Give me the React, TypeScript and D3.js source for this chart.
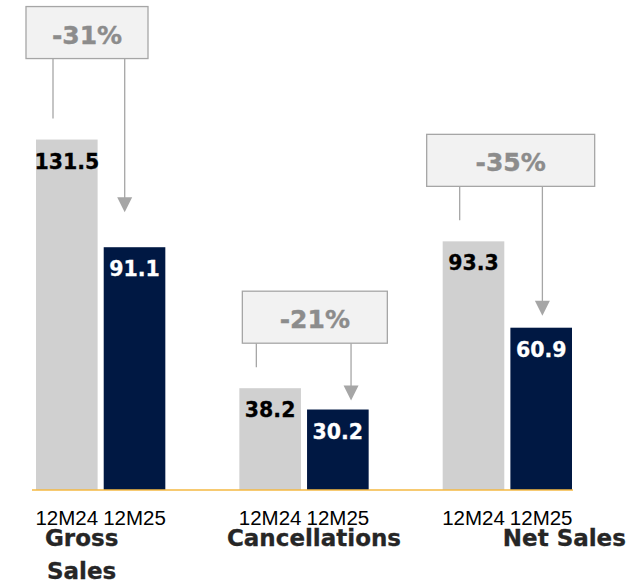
import * as d3 from "d3";

const WIDTH = 638;
const HEIGHT = 582;

// data
const categories = ["Gross Sales", "Cancellations", "Net Sales"];
const periods = ["12M24", "12M25"];
const values12M24 = [131.5, 38.2, 93.3];
const values12M25 = [91.1, 30.2, 60.9];

// layout tweaks per group (title shift, wrapping, callout placement)
const TITLE_SHIFT = [-19, 10, 57];
const TITLE_LINES = [["Gross", "Sales"], ["Cancellations"], ["Net Sales"]];
const CALLOUT = [
  { dx: -10, w: 122, lift: 81, ax: 21, tipGap: 35 },
  { dx: 3, w: 145, lift: 45, ax: 44, tipGap: 9 },
  { dx: -16, w: 168, lift: 55, ax: 32, tipGap: 12 },
];

const COLORS = ["#d0d0d0", "#001843"];
const LABEL_COLORS = ["#000000", "#ffffff"];
const BASE_Y = 490;

const pctFormat = d3.format(".0%");

export default function App() {
  const x = d3
    .scaleBand<string>()
    .domain(categories)
    .range([36, 572])
    .paddingInner(0.364)
    .paddingOuter(0);

  const xInner = d3
    .scaleBand<string>()
    .domain(periods)
    .range([0, x.bandwidth()])
    .paddingInner(0.09);

  const y = d3.scaleLinear().domain([0, 150]).range([BASE_Y, BASE_Y - 150 * 2.665]);

  const series = [values12M24, values12M25];
  const [x0, x1] = x.range();

  return (
    <svg
      width={WIDTH}
      height={HEIGHT}
      style={{ position: "absolute", left: 0, top: 0, background: "#fff" }}
    >
      {categories.map((cat, i) => {
        const gx = x(cat) as number;
        const bars = periods.map((p, k) => ({
          p,
          k,
          x: gx + (xInner(p) as number),
          top: y(series[k][i]),
          v: series[k][i],
        }));
        const c = CALLOUT[i];
        const boxBottom = bars[0].top - c.lift;
        const boxTop = boxBottom - 52;
        const boxLeft = bars[0].x + c.dx;
        const lineX = bars[0].x + 17;
        const arrowX = bars[1].x + c.ax;
        const tipY = bars[1].top - c.tipGap;
        const change = (series[1][i] - series[0][i]) / series[0][i];
        const center = gx + x.bandwidth() / 2 + TITLE_SHIFT[i];
        return (
          <g key={cat}>
            {bars.map((b) => (
              <g key={b.p}>
                <rect
                  x={b.x}
                  y={b.top}
                  width={xInner.bandwidth()}
                  height={BASE_Y - b.top}
                  fill={COLORS[b.k]}
                />
                <text
                  x={b.x + xInner.bandwidth() / 2}
                  y={b.top + 29}
                  textAnchor="middle"
                  fontFamily="DejaVu Sans, Verdana, sans-serif"
                  fontWeight="bold"
                  fontSize={20.5}
                  fill={LABEL_COLORS[b.k]}
                  stroke={LABEL_COLORS[b.k]}
                  strokeWidth={0.3}
                >
                  {b.v.toFixed(1)}
                </text>
                <text
                  x={b.x + xInner.bandwidth() / 2}
                  y={525}
                  textAnchor="middle"
                  fontFamily="Liberation Sans, Arial, sans-serif"
                  fontSize={20.5}
                  fill="#000"
                >
                  {b.p}
                </text>
              </g>
            ))}
            {/* callout */}
            <line x1={lineX} x2={lineX} y1={boxBottom} y2={bars[0].top - 21} stroke="#a6a6a6" strokeWidth={1.3} />
            <line x1={arrowX} x2={arrowX} y1={boxBottom} y2={tipY - 14} stroke="#a6a6a6" strokeWidth={1.3} />
            <path
              d={`M${arrowX - 7.5},${tipY - 15} L${arrowX + 7.5},${tipY - 15} L${arrowX},${tipY} Z`}
              fill="#a6a6a6"
            />
            <rect
              x={boxLeft}
              y={boxTop}
              width={c.w}
              height={52}
              fill="#f2f2f2"
              stroke="#a6a6a6"
              strokeWidth={1.3}
            />
            <text
              x={boxLeft + c.w / 2}
              y={boxTop + 37}
              textAnchor="middle"
              fontFamily="DejaVu Sans, Verdana, sans-serif"
              fontWeight="bold"
              fontSize={25}
              fill="#8c8c8c"
              stroke="#8c8c8c"
              strokeWidth={0.4}
            >
              {pctFormat(change).replace("−", "-")}
            </text>
            {TITLE_LINES[i].map((line, j) => (
              <text
                key={line}
                x={center}
                y={546 + j * 33}
                textAnchor="middle"
                fontFamily="DejaVu Sans, Verdana, sans-serif"
                fontWeight="bold"
                fontSize={23}
                fill="#262626"
                stroke="#262626"
                strokeWidth={0.3}
              >
                {line}
              </text>
            ))}
          </g>
        );
      })}
      <line x1={x0 - 4} x2={x1 + 1} y1={BASE_Y} y2={BASE_Y} stroke="#f5b942" strokeWidth={1.5} />
    </svg>
  );
}
